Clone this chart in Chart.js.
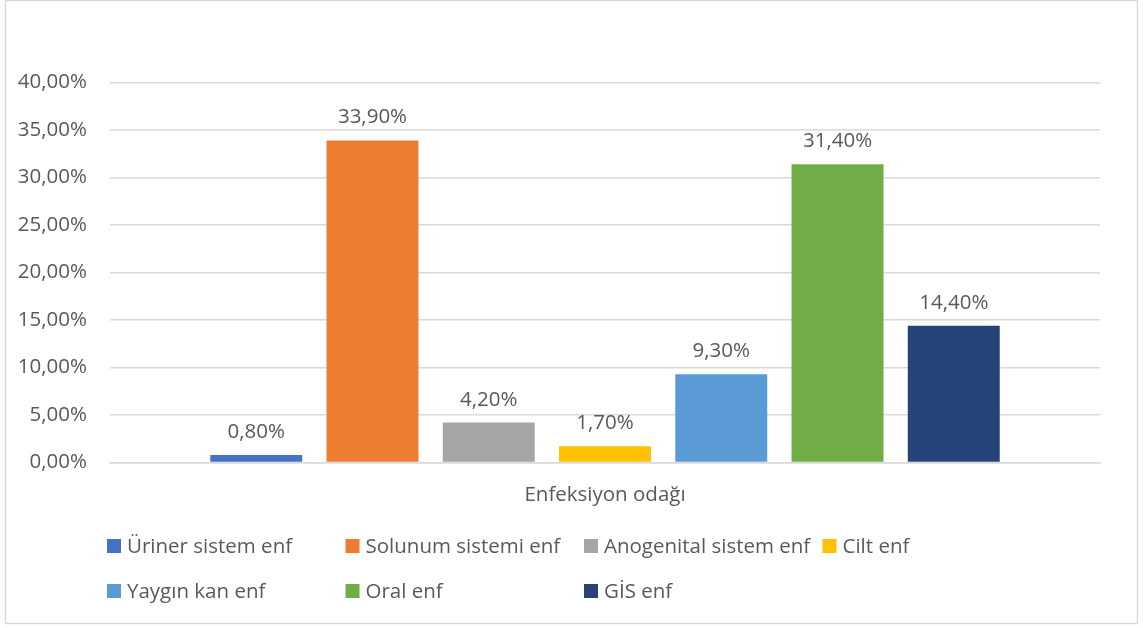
<!DOCTYPE html>
<html>
<head>
<meta charset="utf-8">
<script src="https://cdn.jsdelivr.net/npm/chart.js@4.4.0/dist/chart.umd.min.js"></script>
<style>
  html, body { margin: 0; padding: 0; background: #fff; }
  #wrap { width: 1143px; height: 628px; position: relative; }
</style>
</head>
<body>
<div id="wrap"><canvas id="c" width="1143" height="628"></canvas></div>
<script>
const categoryLabels = ['Enfeksiyon odağı'];
const seriesNames = ['Üriner sistem enf', 'Solunum sistemi enf', 'Anogenital sistem enf', 'Cilt enf', 'Yaygın kan enf', 'Oral enf', 'GİS enf'];
const seriesValues = [0.8, 33.9, 4.2, 1.7, 9.3, 31.4, 14.4];
const seriesColors = ['#4472C4', '#ED7D31', '#A5A5A5', '#FFC000', '#5B9BD5', '#70AD47', '#264478'];
const yTickMin = 0, yTickMax = 40, yTickStep = 5;

const FONT = '"Open Sans", sans-serif';
const FSIZE = 20.5;
const TXT = '#595959';

function fmt(v) { return v.toFixed(2).replace('.', ',') + '%'; }

const datasets = seriesNames.map((n, i) => ({
  label: n,
  data: [seriesValues[i]],
  backgroundColor: seriesColors[i],
  borderWidth: 0,
  categoryPercentage: 0.822,
  barPercentage: 0.791
}));

const decor = {
  id: 'decor',
  afterDatasetsDraw(chart) {
    const ctx = chart.ctx;
    ctx.save();
    ctx.font = FSIZE + 'px ' + FONT;
    ctx.fillStyle = TXT;
    ctx.textAlign = 'center';
    ctx.textBaseline = 'alphabetic';
    chart.data.datasets.forEach((ds, i) => {
      const meta = chart.getDatasetMeta(i);
      meta.data.forEach((el, j) => {
        ctx.fillText(fmt(ds.data[j]), el.x, el.y - 17);
      });
    });
    ctx.restore();
  },
  afterDraw(chart) {
    const ctx = chart.ctx;
    ctx.save();
    ctx.strokeStyle = '#d9d9d9';
    ctx.lineWidth = 1.5;
    ctx.strokeRect(5.5, 0.5, 1132, 623);
    ctx.font = FSIZE + 'px ' + FONT;
    ctx.textBaseline = 'middle';
    ctx.textAlign = 'left';
    const colW = 238.5, x0 = 107, rows = [546, 591], perRow = 4;
    chart.data.datasets.forEach((ds, i) => {
      const r = Math.floor(i / perRow), c = i % perRow;
      const x = x0 + c * colW, y = rows[r];
      ctx.fillStyle = ds.backgroundColor;
      ctx.fillRect(x, y - 7, 14, 14);
      ctx.fillStyle = TXT;
      ctx.fillText(ds.label, x + 20, y + 1);
    });
    ctx.restore();
  }
};

new Chart(document.getElementById('c'), {
  type: 'bar',
  data: { labels: categoryLabels, datasets },
  options: {
    responsive: false,
    animation: false,
    devicePixelRatio: 1,
    layout: { padding: { top: 82.5, right: 43, left: 0, bottom: 0 } },
    plugins: { legend: { display: false }, tooltip: { enabled: false } },
    scales: {
      x: {
        grid: { display: false, drawTicks: false },
        border: { display: true, color: '#d9d9d9', width: 1.5 },
        ticks: { color: TXT, font: { family: FONT, size: FSIZE }, padding: 20 },
        afterFit(s) { s.height = 165.5; }
      },
      y: {
        min: yTickMin, max: yTickMax,
        grid: { color: '#d9d9d9', lineWidth: 1.5, drawTicks: false },
        border: { display: false },
        ticks: { stepSize: yTickStep, color: TXT, font: { family: FONT, size: FSIZE }, padding: 23, callback: v => fmt(v) },
        afterFit(s) { s.width = 110; }
      }
    }
  },
  plugins: [decor]
});
</script>
</body>
</html>
